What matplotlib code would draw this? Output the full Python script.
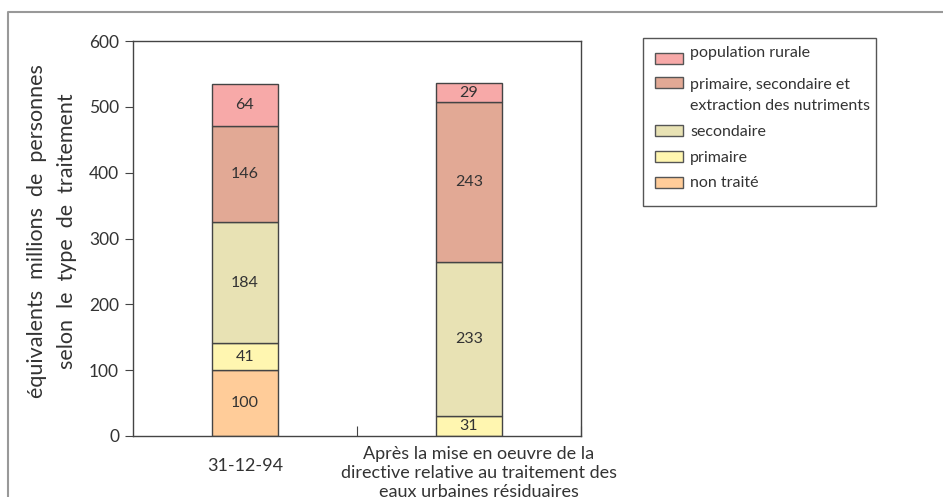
import matplotlib
matplotlib.use("Agg")
import matplotlib.pyplot as plt
import matplotlib.transforms as mtransforms
from matplotlib.patches import Rectangle
from matplotlib.lines import Line2D

plt.rcParams['font.family'] = ['Lato', 'DejaVu Sans']

# categories (x axis)
categories = ["31-12-94",
              "Après la mise en oeuvre de la\ndirective relative au traitement des\neaux urbaines résiduaires"]

# stacked series, bottom to top
series_names = ["non traité", "primaire", "secondaire",
                "primaire, secondaire et\nextraction des nutriments",
                "population rurale"]
non_traite = [100, 0]
primaire = [41, 31]
secondaire = [184, 233]
psn = [146, 243]
rurale = [64, 29]
series = [non_traite, primaire, secondaire, psn, rurale]
colors = ["#FFCC99", "#FFF6B0", "#E8E2B4", "#E2A995", "#F7A9A8"]

yticks = [0, 100, 200, 300, 400, 500, 600]
ylabel_lines = ["équivalents millions de personnes",
                "selon le type de traitement"]

txt = "#333333"
W, H = 943, 497
fig = plt.figure(figsize=(9.43, 4.97), dpi=100)
ax = fig.add_axes([133/W, 1-436/H, (581-133)/W, (436-41)/H])

x = [0, 1]
bottoms = [0, 0]
for vals, col in zip(series, colors):
    ax.bar(x, vals, width=0.295, bottom=bottoms, color=col,
           edgecolor="#444444", linewidth=1.0)
    for xi, v, b in zip(x, vals, bottoms):
        if v > 0:
            ax.text(xi, b + v/2, str(v), ha="center", va="center",
                    fontsize=11.5, color=txt)
    bottoms = [b + v for b, v in zip(bottoms, vals)]

ax.set_xlim(-0.5, 1.5)
ax.set_ylim(0, 600)
ax.set_yticks(yticks)
ax.tick_params(axis="y", direction="out", length=6, labelsize=12.5,
               labelcolor=txt, color="#444444", pad=4)
ax.set_xticks([0.5, 1.5])
ax.set_xticklabels([])
ax.tick_params(axis="x", direction="in", length=7, color="#444444")
for s in ax.spines.values():
    s.set_color("#444444")
    s.set_linewidth(1.0)

# category labels
ax.text(0, -0.055, categories[0], transform=ax.get_xaxis_transform(),
        ha="center", va="top", fontsize=13, color=txt)
off = mtransforms.ScaledTranslation(10/100, 0, fig.dpi_scale_trans)
ax.text(1, -0.026, categories[1],
        transform=ax.get_xaxis_transform() + off,
        ha="center", va="top", fontsize=13, color=txt, linespacing=1.22)

# y label, words a little spread like the original
fig.text(37/W, 1-231/H, "  ".join(ylabel_lines[0].split(" ")),
         rotation=90, ha="center", va="center", fontsize=15.5, color=txt)
fig.text(67/W, 1-231/H, "  ".join(ylabel_lines[1].split(" ")),
         rotation=90, ha="center", va="center", fontsize=15.5, color=txt)

# legend box
fig.patches.append(Rectangle((643/W, 1-206/H), (876-643)/W, (206-38)/H,
                             transform=fig.transFigure, fill=False,
                             edgecolor="#555555", linewidth=1.0))
patch_rows = [58.5, 82.5, 130.5, 156, 182.5]
text_rows = [57, 89, 136, 162, 187]
for name, col, yy, ty in zip(series_names[::-1], colors[::-1],
                             patch_rows, text_rows):
    fig.patches.append(Rectangle((655/W, 1-(yy+5.5)/H), 28/W, 11/H,
                                 transform=fig.transFigure, facecolor=col,
                                 edgecolor="#555555", linewidth=1.0))
    for k, line in enumerate(name.split("\n")):
        fig.text(690/W, 1-(ty + 21*k)/H, line, ha="left", va="baseline",
                 fontsize=11.5, color=txt)

# outer frame
fig.lines.append(Line2D([8/W, 8/W, 1], [0, 1-12/H, 1-12/H],
                        transform=fig.transFigure, color="#999999",
                        linewidth=1.5))

fig.savefig("out.png", dpi=100)
